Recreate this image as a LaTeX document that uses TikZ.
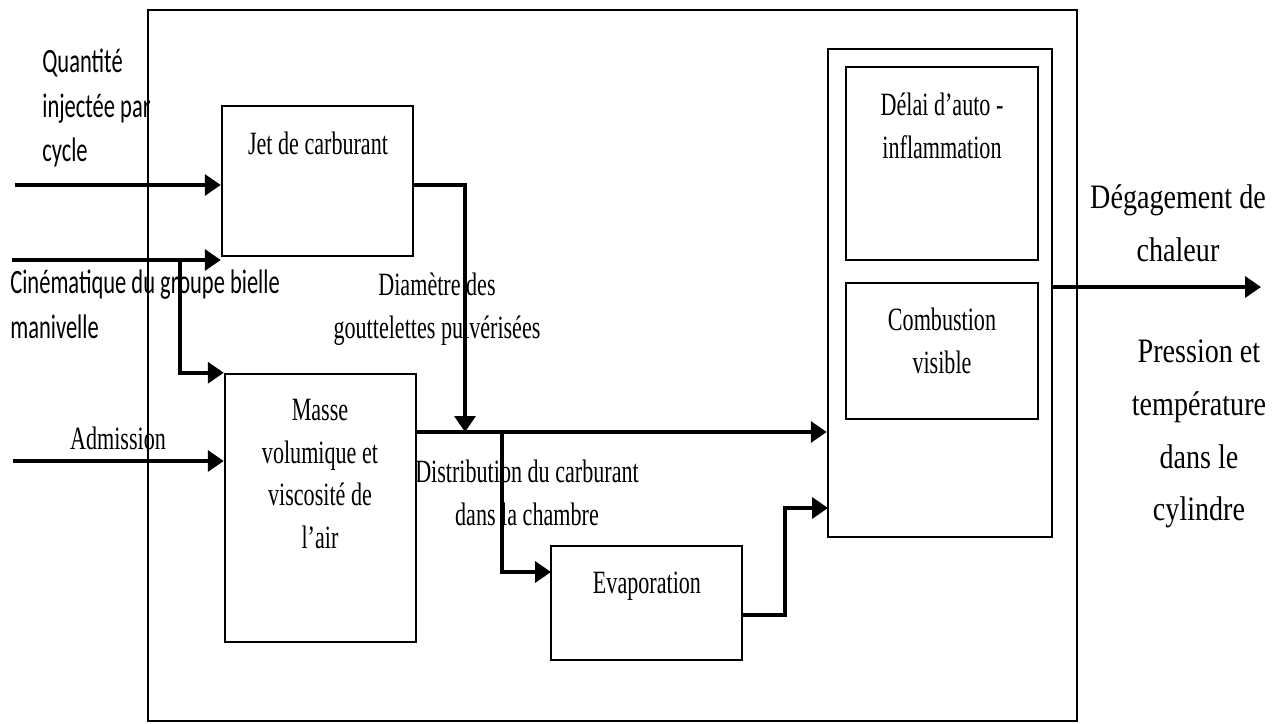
\documentclass[tikz,border=0pt]{standalone}
\usepackage{fontspec}
\setmainfont{Liberation Serif}[FakeStretch=0.68]
\newfontfamily\rightfont{Liberation Serif}[FakeStretch=0.82]
\newfontfamily\leftfont{Carlito}[FakeStretch=0.66]
\usetikzlibrary{arrows.meta, fit, calc}

\begin{document}
\begin{tikzpicture}[x=0.2mm, y=-0.2mm,
        box/.style = {draw, line width=0.5mm, inner sep=0},
        arr/.style = {line width=0.7mm, -{Triangle[length=3.2mm, width=4.2mm]}},
        txt/.style = {align=center, inner sep=0, font=\fontsize{18.5}{24.2}\selectfont},
        rtxt/.style = {align=center, inner sep=0, font=\rightfont\fontsize{19.5}{30}\selectfont},
        ltxt/.style = {align=left, anchor=west, inner sep=0, font=\leftfont\fontsize{19.4}{25.5}\selectfont}]
        \useasboundingbox (0,0) rectangle (1283,724);

        % blocs
        \node[box, line width=0.4mm, fit={(148,10) (1077,721)}] (outer) {};
        \node[box, fit={(222,106) (413,256)}] (jet) {};
        \node[box, fit={(225,374) (416,642)}] (masse) {};
        \node[box, fit={(551,546) (742,660)}] (evap) {};
        \node[box, fit={(828,49) (1052,537)}] (comb) {};
        \node[box, fit={(846,67) (1038,260)}] (delai) {};
        \node[box, fit={(846,283) (1038,419)}] (visible) {};

        % textes des blocs
        \node[txt] (jettxt) at (318,143) {Jet de carburant};
        \node[txt] (massetxt) at (320,474) {Masse\\volumique et\\viscosité de\\l’air};
        \node[txt] (evaptxt) at (647,586) {Evaporation};
        \node[txt] (delaitxt) at (942,126) {Délai d’auto -\\inflammation};
        \node[txt] (visibletxt) at (942,341) {Combustion\\visible};

        % entrees et sorties
        \node[ltxt] (qtxt) at (42,108) {Quantité\\injectée par\\cycle};
        \node[ltxt] (ctxt) at (10,304) {Cinématique du groupe bielle\\manivelle};
        \node[txt] (atxt) at (118,438) {Admission};
        \node[txt] (dtxt) at (437,309) {Diamètre des\\gouttelettes pulvérisées};
        \node[txt] (distxt) at (527,493) {Distribution du carburant\\dans la chambre};
        \node[rtxt] (chaltxt) at (1178,223) {Dégagement de\\chaleur};
        \node[rtxt] (prestxt) at (1199,434) {Pression et\\température\\dans le\\cylindre};

        \coordinate (q0) at (15,185);
        \coordinate (c0) at (12,260);
        \coordinate (cb) at (180,260);
        \coordinate (a0) at (13,461);
        \coordinate (j1) at (465,432);
        \coordinate (mo) at (416,432);
        \coordinate (d0) at (502,432);
        \coordinate (e0) at (551,572);
        \coordinate (eo) at (742,615);
        \coordinate (co) at (828,508);
        \coordinate (o0) at (1052,287);
        \coordinate (o1) at (1261,287);

        \draw[arr] (q0) -- (q0 -| jet.west);
        \draw[arr] (c0) -- (c0 -| jet.west);
        \draw[arr] (cb) |- (masse.north west);
        \draw[arr] (a0) -- (a0 -| masse.west);
        \draw[arr] (jet.east |- q0) -| (j1);
        \draw[arr] (mo) -- (mo -| comb.west);
        \draw[arr] (d0) |- (e0);
        \draw[arr] (eo) -| ($(eo)!0.5!(co)$) |- (co);
        \draw[arr] (o0) -- (o1);
\end{tikzpicture}
\end{document}
